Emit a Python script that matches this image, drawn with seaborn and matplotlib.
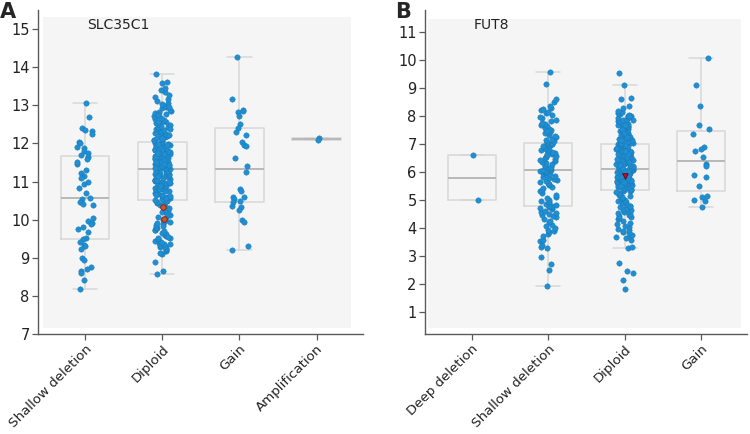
import numpy as np
import pandas as pd
import matplotlib
matplotlib.use("Agg")
import matplotlib.pyplot as plt
import seaborn as sns

# ---------------- data ----------------
a_gene = "SLC35C1"
a_categories = ["Shallow deletion", "Diploid", "Gain", "Amplification"]
a_shallow = [13.06, 12.70, 12.40, 12.36, 12.33, 12.24, 12.03, 12.00, 11.90, 11.87,
             11.45, 11.80, 11.76, 11.70, 11.65, 11.58, 11.50, 11.31, 11.22, 11.14,
             11.10, 10.98, 10.93, 10.82, 10.70, 10.57, 10.54, 10.46, 10.41, 10.38,
             10.04, 9.97, 9.91, 9.88, 9.80, 9.76, 9.68, 9.52, 9.48, 9.41,
             9.34, 9.32, 9.23, 8.99, 8.93, 8.75, 8.71, 8.64, 8.60, 8.43, 8.17]
a_diploid = [8.58, 8.66, 8.90, 9.09, 9.13, 9.17, 9.20, 9.22, 9.26, 9.29,
             9.31, 9.33, 9.37, 9.40, 9.41, 9.45, 9.48, 9.51, 9.53, 9.57,
             9.60, 9.62, 9.65, 9.69, 9.72, 9.74, 9.77, 9.79, 9.82, 9.86,
             9.88, 9.90, 9.94, 9.97, 9.99, 10.05, 10.08, 10.12, 10.15, 10.18,
             10.21, 10.23, 10.26, 10.29, 10.31, 10.36, 10.39, 10.42, 10.45, 10.47,
             10.49, 10.50, 9.35, 9.55, 9.84,
             10.52, 10.55, 10.57, 10.60, 10.62, 10.64, 10.67, 10.69, 10.71, 10.74,
             10.76, 10.78, 10.80, 10.83, 10.85, 10.87, 10.89, 10.91, 10.93, 10.95,
             10.97, 10.99, 11.01, 11.03, 11.05, 11.07, 11.09, 11.11, 11.13, 11.15,
             11.16, 11.18, 11.20, 11.21, 11.23, 11.24, 11.26, 11.27, 11.29, 11.30,
             11.31, 11.32, 10.58, 10.66, 10.81, 10.90, 11.00, 11.10, 11.19, 11.25,
             10.63, 10.88, 11.04, 11.14, 11.28,
             11.33,
             11.35, 11.37, 11.39, 11.41, 11.43, 11.45, 11.47, 11.49, 11.51, 11.53,
             11.55, 11.57, 11.59, 11.61, 11.63, 11.65, 11.67, 11.69, 11.71, 11.73,
             11.75, 11.77, 11.79, 11.81, 11.83, 11.85, 11.87, 11.89, 11.91, 11.93,
             11.95, 11.97, 11.99, 12.01, 12.03, 11.36, 11.44, 11.52, 11.60, 11.68,
             11.76, 11.84, 11.92, 12.00, 11.40, 11.56, 11.72, 11.88, 11.46, 11.64,
             11.80, 11.96, 11.50, 11.74, 11.98,
             12.06, 12.08, 12.10, 12.12, 12.15, 12.17, 12.19, 12.21, 12.24, 12.26,
             12.28, 12.30, 12.33, 12.35, 12.37, 12.40, 12.42, 12.44, 12.47, 12.49,
             12.52, 12.54, 12.57, 12.60, 12.62, 12.65, 12.68, 12.71, 12.74, 12.77,
             12.80, 12.83, 12.86, 12.89, 12.92, 12.96, 12.99, 13.03, 13.07, 13.12,
             13.17, 13.22, 13.28, 13.34, 13.40, 13.46, 13.58, 13.61, 13.82, 12.13,
             12.22, 12.38, 12.56, 12.75, 12.95]
a_gain = [14.26, 13.17, 12.89, 12.83, 12.85, 12.73, 12.51, 12.40, 12.29, 12.22,
          12.04, 11.95, 11.93, 11.63, 11.41, 11.24, 10.80, 10.76, 10.60, 10.59,
          10.53, 10.49, 10.46, 10.37, 10.33, 10.25, 9.98, 9.93, 9.31, 9.20]
a_amplification = [12.14, 12.10]
a_highlight_cat = ["Diploid", "Diploid"]
a_highlight_val = [10.02, 10.33]

b_gene = "FUT8"
b_categories = ["Deep deletion", "Shallow deletion", "Diploid", "Gain"]
b_deep = [6.60, 4.99]
b_shallow = [1.91, 2.48, 2.72, 2.96, 3.27, 3.32, 3.40, 3.52, 3.56, 3.70,
             3.78, 3.84, 3.88, 3.93, 3.99, 4.05, 4.12, 4.20, 4.26, 4.33,
             4.38, 4.42, 4.47, 4.51, 4.55, 4.58, 4.62, 4.66, 4.70, 4.73,
             4.76, 4.78,
             4.80,
             4.83, 4.87, 4.91, 4.95, 5.00, 5.06, 5.12, 5.18, 5.25, 5.31,
             5.37, 5.42, 5.48, 5.53, 5.56, 5.60, 5.63, 5.67, 5.71, 5.75,
             5.79, 5.83, 5.87, 5.90, 5.93, 5.96, 5.99, 6.01, 6.03, 6.05, 6.07,
             6.08,
             6.10, 6.13, 6.17, 6.20, 6.24, 6.28, 6.31, 6.35, 6.39, 6.42,
             6.46, 6.50, 6.53, 6.56, 6.60, 6.63, 6.66, 6.69, 6.72, 6.75,
             6.78, 6.81, 6.84, 6.87, 6.90, 6.92, 6.95, 6.97, 6.99, 7.01, 7.02,
             7.03,
             7.06, 7.10, 7.14, 7.19, 7.24, 7.29, 7.34, 7.39, 7.44, 7.50,
             7.55, 7.59, 7.63, 7.67, 7.71, 7.76, 7.81, 7.86, 7.92, 7.98,
             8.04, 8.10, 8.16, 8.22, 8.26, 8.30, 8.36, 8.50, 8.60, 9.15,
             9.57, 7.48]
b_diploid = [1.82, 2.12, 2.38, 2.45, 2.74, 3.29, 3.32, 3.58, 3.62, 3.66,
             3.71, 3.76, 3.80, 3.85, 3.88, 3.92, 3.97, 4.02, 4.08, 4.13,
             4.18, 4.24, 4.30, 4.35, 4.39, 4.43, 4.47, 4.50, 4.53, 4.56,
             4.59, 4.62, 4.65, 4.68, 4.71, 4.74, 4.77, 4.80, 4.84, 4.88,
             4.91, 4.94, 4.97, 5.00, 5.03, 5.07, 5.11, 5.15, 5.19, 5.22,
             5.25, 5.28, 5.31, 5.33, 5.35,
             5.36,
             5.38, 5.40, 5.42, 5.44, 5.46, 5.48, 5.50, 5.52, 5.54, 5.55,
             5.57, 5.59, 5.61, 5.62, 5.64, 5.66, 5.67, 5.69, 5.71, 5.72,
             5.74, 5.76, 5.77, 5.79, 5.80, 5.82, 5.84, 5.86, 5.87, 5.89,
             5.90, 5.92, 5.94, 5.95, 5.97, 5.98, 6.00, 6.01, 6.02, 6.03,
             6.04, 6.05, 6.06, 6.07, 6.08, 6.09, 6.10, 6.11, 5.51, 5.65,
             5.78, 5.91, 5.99, 6.06,
             6.12,
             6.14, 6.16, 6.18, 6.20, 6.22, 6.24, 6.26, 6.28, 6.30, 6.32,
             6.34, 6.36, 6.38, 6.40, 6.42, 6.44, 6.46, 6.48, 6.50, 6.52,
             6.54, 6.56, 6.58, 6.60, 6.62, 6.64, 6.66, 6.68, 6.70, 6.72,
             6.74, 6.76, 6.78, 6.80, 6.82, 6.84, 6.86, 6.88, 6.90, 6.92,
             6.94, 6.96, 6.98, 7.00, 6.15, 6.25, 6.35, 6.45, 6.55, 6.65,
             6.75, 6.85, 6.95, 6.99,
             7.01,
             7.03, 7.05, 7.07, 7.09, 7.11, 7.13, 7.15, 7.17, 7.19, 7.21,
             7.24, 7.27, 7.30, 7.33, 7.36, 7.39, 7.42, 7.45, 7.48, 7.51,
             7.54, 7.57, 7.60, 7.63, 7.66, 7.69, 7.72, 7.75, 7.78, 7.81,
             7.84, 7.87, 7.90, 7.93, 7.96, 7.99, 8.02, 8.05, 8.08, 8.11,
             8.14, 8.20, 8.28, 8.38, 8.60, 8.66, 9.10, 9.55, 7.25, 7.40,
             7.55, 7.70, 7.85, 8.00, 7.15]
b_gain = [10.08, 9.10, 8.35, 7.67, 7.55, 7.37, 6.88, 6.84, 6.76, 6.53,
          6.27, 6.20, 5.88, 5.82, 5.49, 5.15, 5.12, 5.00, 4.96, 4.74]
b_highlight_cat = ["Diploid"]
b_highlight_val = [5.86]

a_yticks = [7, 8, 9, 10, 11, 12, 13, 14, 15]
b_yticks = [1, 2, 3, 4, 5, 6, 7, 8, 9, 10, 11]

# ---------------- style ----------------
sns.set_theme(style="ticks")
plt.rcParams["font.family"] = ["DejaVu Sans"]

BLUE = "#1f8fd4"
BLUE_EDGE = "#1a76b0"
BG = "#f5f5f5"
BOX_C = "#d7d7d7"
MED_C = "#b8b8b8"
SPINE_C = "#5a5a5a"


def hinge_stats(vals):
    v = np.sort(np.asarray(vals, dtype=float))
    n = len(v)
    half = (n + 1) // 2
    q1 = np.median(v[:half])
    q3 = np.median(v[n - half:])
    iqr = q3 - q1
    lo = v[v >= q1 - 1.5 * iqr].min()
    hi = v[v <= q3 + 1.5 * iqr].max()
    return dict(med=np.median(v), q1=q1, q3=q3, whislo=lo, whishi=hi, fliers=[])


def panel(ax, categories, groups, hl_cat, hl_val, hl_marker, hl_color, hl_edge,
          ylim, yticks, gene, bg_box):
    ax.set_facecolor("white")
    ax.add_patch(plt.Rectangle((bg_box[0], bg_box[1]), bg_box[2] - bg_box[0],
                               bg_box[3] - bg_box[1], transform=ax.transAxes,
                               facecolor=BG, edgecolor="none", zorder=0))
    stats = [hinge_stats(g) for g in groups]
    ax.bxp(stats, positions=range(len(groups)), widths=0.63, showfliers=False,
           manage_ticks=False,
           boxprops=dict(color=BOX_C, linewidth=1.1),
           whiskerprops=dict(color=BOX_C, linewidth=1.1),
           capprops=dict(color=BOX_C, linewidth=1.1),
           medianprops=dict(color=MED_C, linewidth=1.4), zorder=1)
    df = pd.DataFrame({
        "cat": [c for c, g in zip(categories, groups) for _ in g],
        "val": [x for g in groups for x in g],
    })
    sns.stripplot(data=df, x="cat", y="val", order=categories, color=BLUE,
                  size=3.9, jitter=0.11, linewidth=0.3, edgecolor=BLUE_EDGE,
                  ax=ax, zorder=3)
    hl = pd.DataFrame({"cat": hl_cat, "val": hl_val})
    sns.stripplot(data=hl, x="cat", y="val", order=categories, color=hl_color,
                  marker=hl_marker, size=4, jitter=0.06, linewidth=0.7,
                  edgecolor=hl_edge, ax=ax, zorder=4)
    ax.set_xlim(-0.61, 3.6)
    ax.set_ylim(*ylim)
    ax.set_yticks(yticks)
    ax.set_yticklabels([str(t) for t in yticks], fontsize=10.5, color="#222222")
    ax.set_xticks(range(len(categories)))
    ax.set_xticklabels(categories, rotation=45, ha="right",
                       rotation_mode="anchor", fontsize=9.6, color="#222222")
    ax.set_xlabel("")
    ax.set_ylabel("")
    for s in ["top", "right"]:
        ax.spines[s].set_visible(False)
    for s in ["left", "bottom"]:
        ax.spines[s].set_color(SPINE_C)
        ax.spines[s].set_linewidth(1.0)
    ax.tick_params(axis="both", length=4, width=0.9, color=SPINE_C, pad=2)
    ax.text(0.15, 0.975, gene, transform=ax.transAxes, fontsize=10,
            ha="left", va="top", color="#222222")
    ax.grid(False)


fig = plt.figure(figsize=(7.5, 4.34), dpi=100)
axA = fig.add_axes([0.0507, 0.2304, 0.4333, 0.7465])
axB = fig.add_axes([0.5667, 0.2304, 0.4293, 0.7465])

np.random.seed(3)
panel(axA, a_categories, [a_shallow, a_diploid, a_gain, a_amplification],
      a_highlight_cat, a_highlight_val, "o", "#d4502f", "#7a2a1a",
      (7, 15.5), a_yticks, a_gene, (0.015, 0.0185, 0.963, 0.978))
panel(axB, b_categories, [b_deep, b_shallow, b_diploid, b_gain],
      b_highlight_cat, b_highlight_val, "v", "#b5122e", "#6a0a18",
      (0.2, 11.8), b_yticks, b_gene, (0.009, 0.0185, 0.981, 0.972))

fig.text(0.0, 0.995, "A", fontsize=15, fontweight="bold", ha="left", va="top")
fig.text(0.527, 0.995, "B", fontsize=15, fontweight="bold", ha="left", va="top")

fig.savefig("out.png", dpi=100)
